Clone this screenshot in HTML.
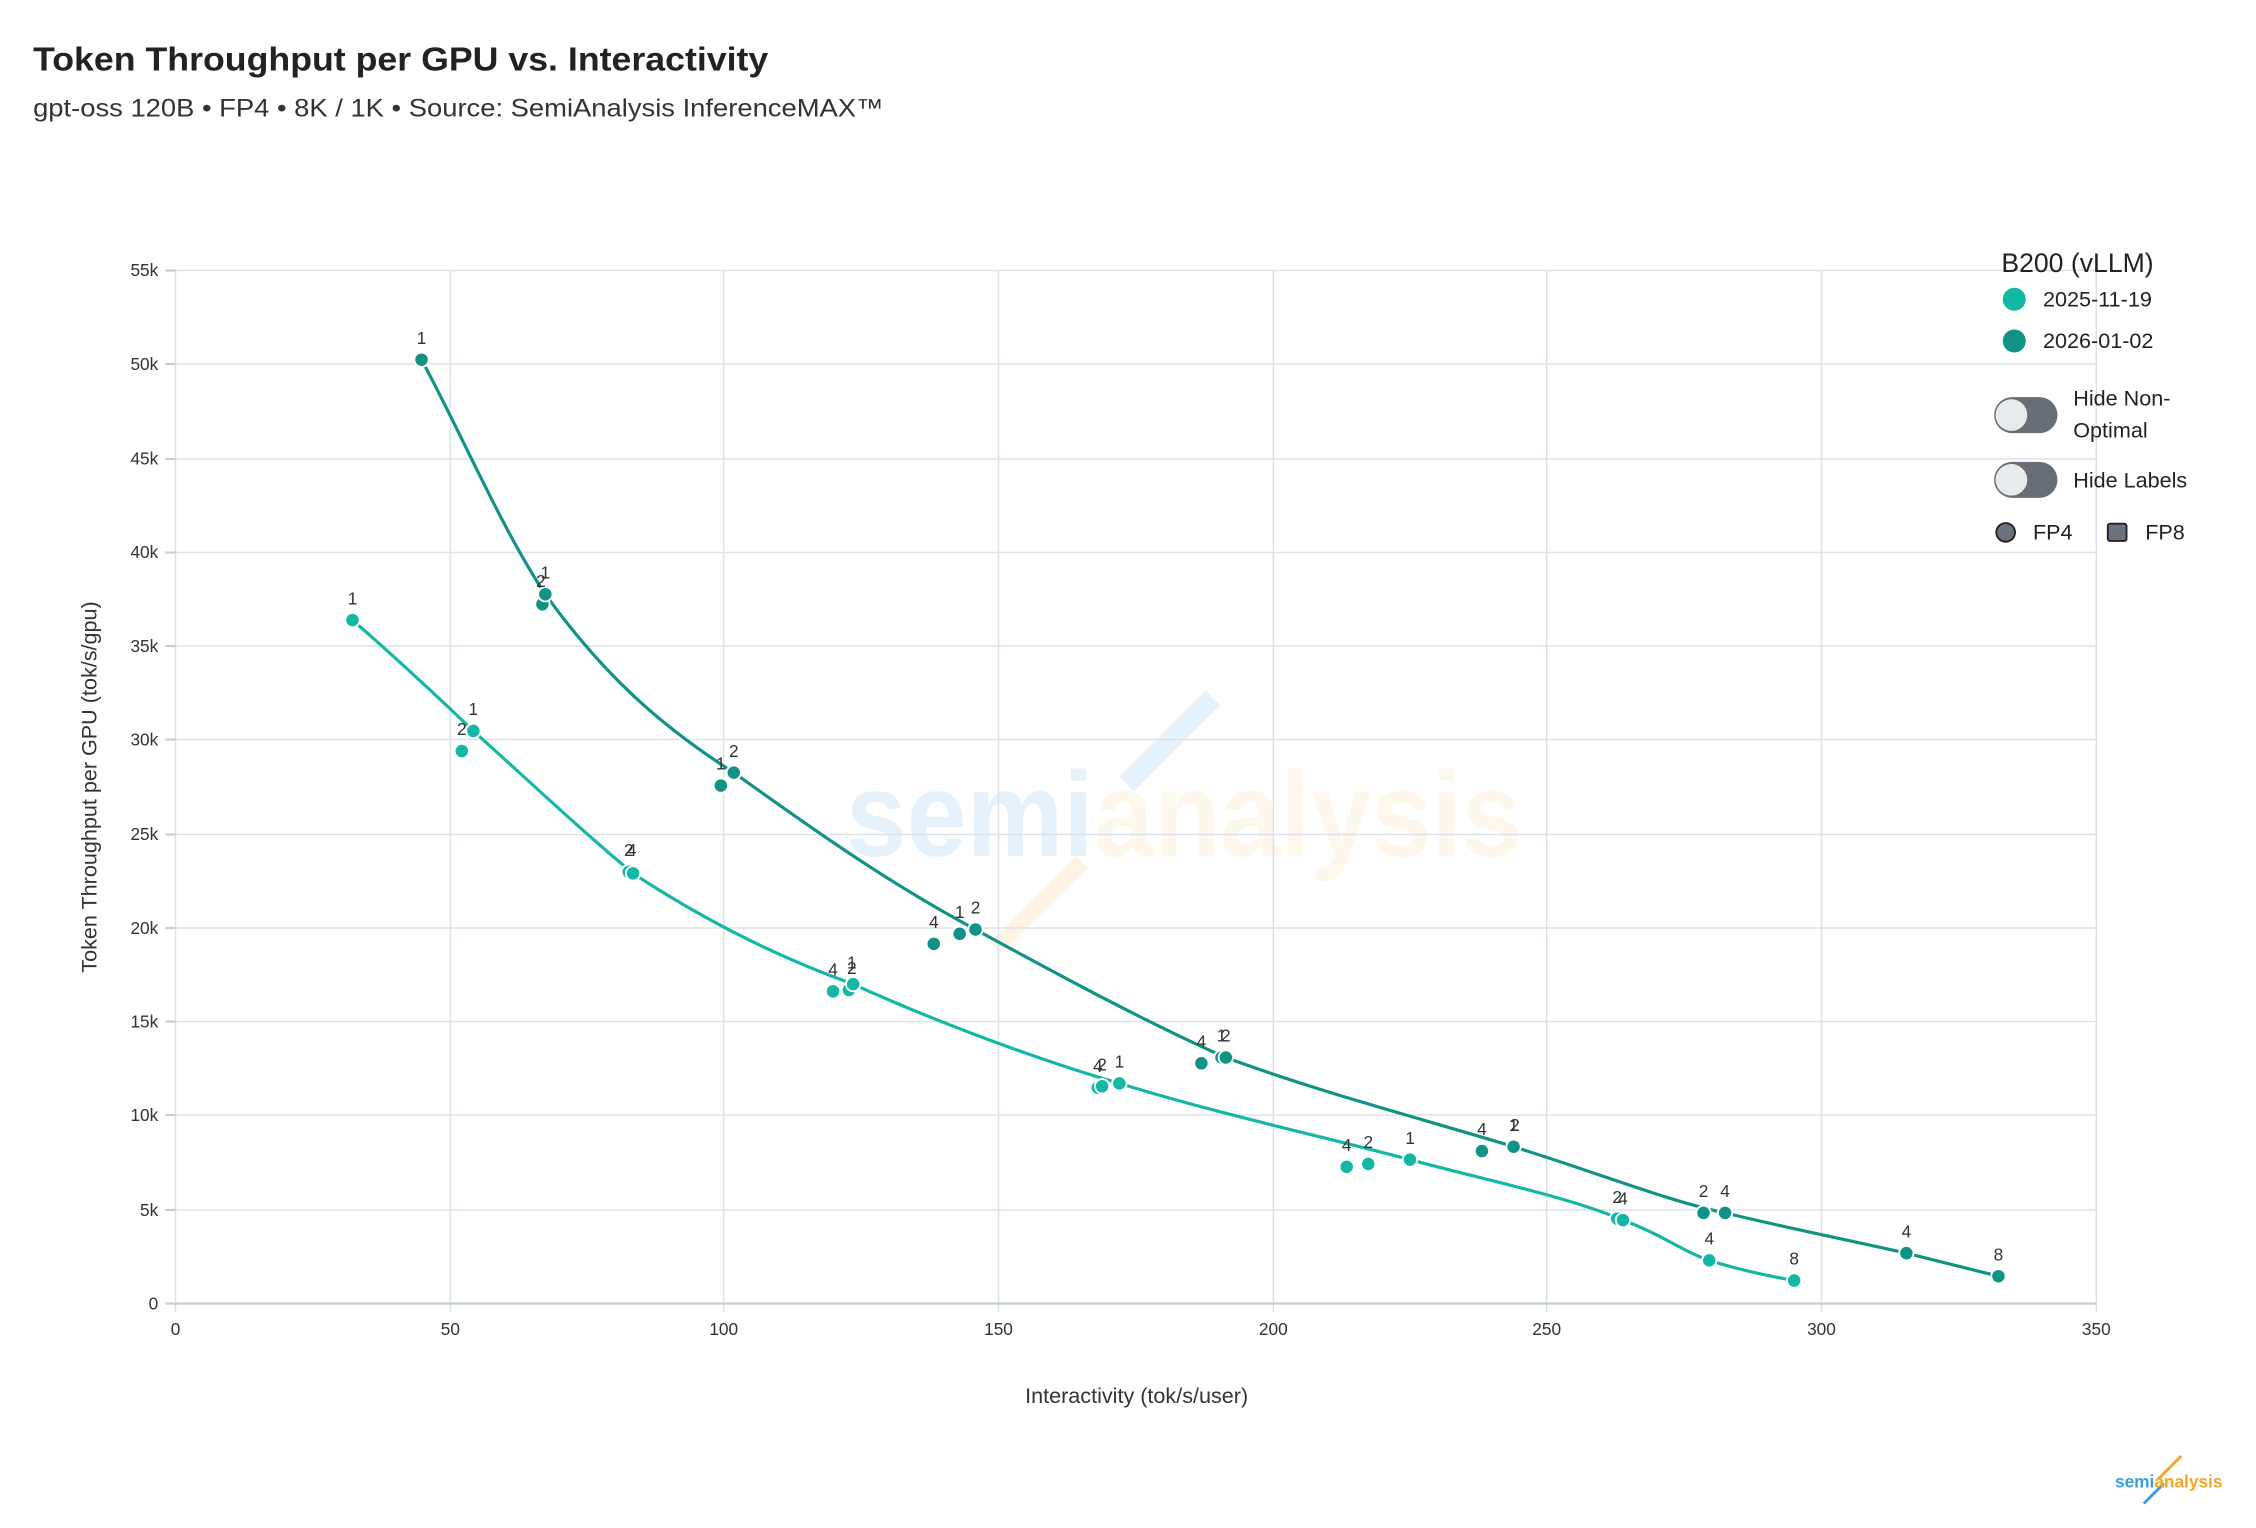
<!DOCTYPE html>
<html><head><meta charset="utf-8"><style>
html,body{margin:0;padding:0;background:#fff}
svg{display:block}
text{font-family:"Liberation Sans",sans-serif}
</style></head><body>
<svg width="2256" height="1528" viewBox="0 0 1568 1062" xmlns="http://www.w3.org/2000/svg">
<rect width="1568" height="1062" fill="#fff"/>
<text x="23" y="49" font-size="23" font-weight="bold" fill="#222" textLength="511" lengthAdjust="spacingAndGlyphs">Token Throughput per GPU vs. Interactivity</text>
<text x="23" y="81" font-size="17.5" fill="#333" textLength="591" lengthAdjust="spacingAndGlyphs">gpt-oss 120B • FP4 • 8K / 1K • Source: SemiAnalysis InferenceMAX™</text>
<!-- watermark -->
<g opacity="0.12">
<path d="M778 540 L838 480 L848 490 L788 550Z" fill="#3a9ee6"/>
<path d="M688 655 L748 595 L756 603 L696 663Z" fill="#f5a623"/>
<text x="588" y="595" font-size="84" font-weight="bold" fill="#3a9ee6" textLength="470" lengthAdjust="spacingAndGlyphs">semi<tspan fill="#f5c36a">analysis</tspan></text>
</g>
<!-- grid -->
<g stroke="#dbe1ea" stroke-width="1">
<line x1="122" y1="188" x2="1457" y2="188"/><line x1="122" y1="253" x2="1457" y2="253"/><line x1="122" y1="319" x2="1457" y2="319"/><line x1="122" y1="384" x2="1457" y2="384"/><line x1="122" y1="449" x2="1457" y2="449"/><line x1="122" y1="514" x2="1457" y2="514"/><line x1="122" y1="580" x2="1457" y2="580"/><line x1="122" y1="645" x2="1457" y2="645"/><line x1="122" y1="710" x2="1457" y2="710"/><line x1="122" y1="775" x2="1457" y2="775"/><line x1="122" y1="841" x2="1457" y2="841"/>
<line x1="122" y1="188" x2="122" y2="912"/><line x1="313" y1="188" x2="313" y2="912"/><line x1="503" y1="188" x2="503" y2="912"/><line x1="694" y1="188" x2="694" y2="912"/><line x1="885" y1="188" x2="885" y2="912"/><line x1="1075" y1="188" x2="1075" y2="912"/><line x1="1266" y1="188" x2="1266" y2="912"/><line x1="1457" y1="188" x2="1457" y2="912"/>
</g>
<g stroke="#c3ccd6" stroke-width="1.5">
<line x1="115" y1="906" x2="1457" y2="906"/>
<line x1="115" y1="188" x2="122" y2="188"/><line x1="115" y1="253" x2="122" y2="253"/><line x1="115" y1="319" x2="122" y2="319"/><line x1="115" y1="384" x2="122" y2="384"/><line x1="115" y1="449" x2="122" y2="449"/><line x1="115" y1="514" x2="122" y2="514"/><line x1="115" y1="580" x2="122" y2="580"/><line x1="115" y1="645" x2="122" y2="645"/><line x1="115" y1="710" x2="122" y2="710"/><line x1="115" y1="775" x2="122" y2="775"/><line x1="115" y1="841" x2="122" y2="841"/>
</g>
<g font-size="12" fill="#333" text-anchor="end">
<text x="110" y="192">55k</text><text x="110" y="257">50k</text><text x="110" y="323">45k</text><text x="110" y="388">40k</text><text x="110" y="453">35k</text><text x="110" y="518">30k</text><text x="110" y="584">25k</text><text x="110" y="649">20k</text><text x="110" y="714">15k</text><text x="110" y="779">10k</text><text x="110" y="845">5k</text><text x="110" y="910">0</text>
</g>
<g font-size="12" fill="#333" text-anchor="middle">
<text x="122" y="928">0</text><text x="313" y="928">50</text><text x="503" y="928">100</text><text x="694" y="928">150</text><text x="885" y="928">200</text><text x="1075" y="928">250</text><text x="1266" y="928">300</text><text x="1457" y="928">350</text>
</g>
<text x="790" y="975" font-size="15" fill="#333" text-anchor="middle">Interactivity (tok/s/user)</text>
<text transform="translate(67,547) rotate(-90)" font-size="15" fill="#333" text-anchor="middle">Token Throughput per GPU (tok/s/gpu)</text>
<!-- lines -->
<path d="M293 250 C320 300 350 370 379 413 C420 470 460 505 510 537 C570 580 620 615 678 646 C740 680 800 712 852 735 C920 760 990 778 1052 797 C1110 815 1160 835 1199 843 C1240 853 1290 863 1325 871 L1389 887" fill="none" stroke="#0e9384" stroke-width="2.2"/>
<path d="M245 431 C275 457 305 485 329 508 C370 545 405 578 440 607 C490 640 540 665 593 684 C650 710 720 736 778 753 C850 775 920 790 980 806 C1040 822 1090 832 1128 848 C1155 858 1170 870 1188 876 C1210 883 1230 887 1247 890" fill="none" stroke="#13b8a5" stroke-width="2.2"/>
<!-- dark points -->
<g fill="#0e9384" stroke="#fff" stroke-width="1.3">
<circle cx="293" cy="250" r="5"/><circle cx="377" cy="420" r="5"/><circle cx="379" cy="413" r="5"/><circle cx="501" cy="546" r="5"/><circle cx="510" cy="537" r="5"/><circle cx="649" cy="656" r="5"/><circle cx="667" cy="649" r="5"/><circle cx="678" cy="646" r="5"/><circle cx="835" cy="739" r="5"/><circle cx="849" cy="735" r="5"/><circle cx="852" cy="735" r="5"/><circle cx="1030" cy="800" r="5"/><circle cx="1052" cy="797" r="5"/><circle cx="1184" cy="843" r="5"/><circle cx="1199" cy="843" r="5"/><circle cx="1325" cy="871" r="5"/><circle cx="1389" cy="887" r="5"/>
</g>
<g fill="#13b8a5" stroke="#fff" stroke-width="1.3">
<circle cx="245" cy="431" r="5"/><circle cx="321" cy="522" r="5"/><circle cx="329" cy="508" r="5"/><circle cx="437" cy="606" r="5"/><circle cx="440" cy="607" r="5"/><circle cx="579" cy="689" r="5"/><circle cx="590" cy="688" r="5"/><circle cx="593" cy="684" r="5"/><circle cx="763" cy="756" r="5"/><circle cx="766" cy="755" r="5"/><circle cx="778" cy="753" r="5"/><circle cx="936" cy="811" r="5"/><circle cx="951" cy="809" r="5"/><circle cx="980" cy="806" r="5"/><circle cx="1124" cy="847" r="5"/><circle cx="1128" cy="848" r="5"/><circle cx="1188" cy="876" r="5"/><circle cx="1247" cy="890" r="5"/>
</g>
<g font-size="12" fill="#333" text-anchor="middle">
<text x="293" y="239">1</text><text x="376" y="408">2</text><text x="379" y="402">1</text><text x="501" y="535">1</text><text x="510" y="526">2</text><text x="649" y="645">4</text><text x="667" y="638">1</text><text x="678" y="635">2</text><text x="835" y="728">4</text><text x="849" y="724">1</text><text x="852" y="724">2</text><text x="1030" y="789">4</text><text x="1052" y="786">1</text><text x="1053" y="786">2</text><text x="1184" y="832">2</text><text x="1199" y="832">4</text><text x="1325" y="860">4</text><text x="1389" y="876">8</text>
<text x="245" y="420">1</text><text x="321" y="511">2</text><text x="329" y="497">1</text><text x="437" y="595">2</text><text x="439" y="595">4</text><text x="579" y="678">4</text><text x="592" y="673">1</text><text x="592" y="677">2</text><text x="763" y="745">4</text><text x="766" y="744">2</text><text x="778" y="742">1</text><text x="936" y="800">4</text><text x="951" y="798">2</text><text x="980" y="795">1</text><text x="1124" y="836">2</text><text x="1128" y="837">4</text><text x="1188" y="865">4</text><text x="1247" y="879">8</text>
</g>
<!-- legend -->
<text x="1391" y="189" font-size="18.5" fill="#222">B200 (vLLM)</text>
<circle cx="1400" cy="208" r="8" fill="#13b8a5"/><text x="1420" y="213" font-size="15" fill="#222">2025-11-19</text>
<circle cx="1400" cy="237" r="8" fill="#0e9384"/><text x="1420" y="242" font-size="15" fill="#222">2026-01-02</text>
<rect x="1386" y="276" width="44" height="25" rx="12.5" fill="#666d75"/><circle cx="1398" cy="288.5" r="11" fill="#e9eaec"/>
<text x="1441" y="282" font-size="15" fill="#222">Hide Non-</text><text x="1441" y="304" font-size="15" fill="#222">Optimal</text>
<rect x="1386" y="321" width="44" height="25" rx="12.5" fill="#666d75"/><circle cx="1398" cy="333.5" r="11" fill="#e9eaec"/>
<text x="1441" y="339" font-size="15" fill="#222">Hide Labels</text>
<circle cx="1394" cy="370" r="6.5" fill="#6b7280" stroke="#222" stroke-width="1.3"/><text x="1413" y="375" font-size="15" fill="#222">FP4</text>
<rect x="1465" y="364" width="13" height="12" rx="1.5" fill="#6b7280" stroke="#222" stroke-width="1.3"/><text x="1491" y="375" font-size="15" fill="#222">FP8</text>
<!-- logo -->
<path d="M1500 1028 L1516 1012" stroke="#f5a623" stroke-width="2"/>
<path d="M1490 1045 L1504 1031" stroke="#3a9ee6" stroke-width="2"/>
<text x="1470" y="1034" font-size="12" font-weight="bold" fill="#3a9ee6">semi<tspan fill="#f5a623">analysis</tspan></text>
</svg>
</body></html>
